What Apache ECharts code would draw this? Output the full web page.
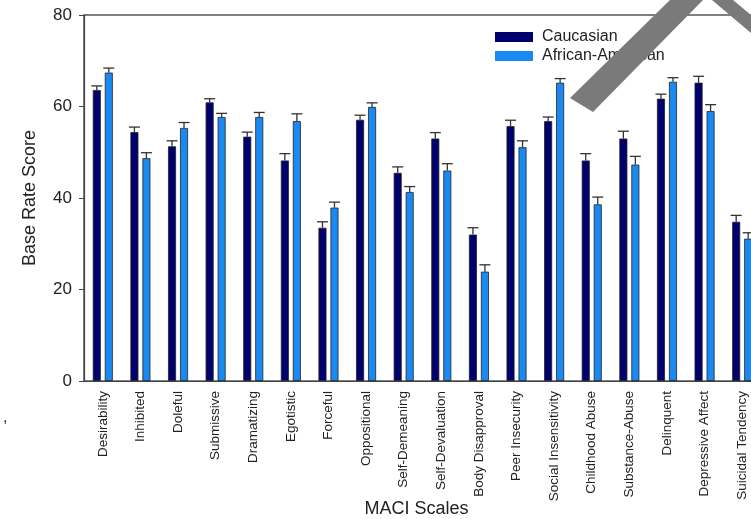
<!DOCTYPE html>
<html>
<head>
<meta charset="utf-8">
<script src="https://cdn.jsdelivr.net/npm/echarts@6/dist/echarts.min.js"></script>
<style>
  html, body { margin: 0; padding: 0; background: #fff; }
  #chart { width: 751px; height: 519px; }
</style>
</head>
<body>
<div id="chart"></div>
<script>
// MACI scale means by group, with standard errors (upper bars only)
const scales = ['Desirability', 'Inhibited', 'Doleful', 'Submissive', 'Dramatizing', 'Egotistic',
  'Forceful', 'Oppositional', 'Self-Demeaning', 'Self-Devaluation', 'Body Disapproval',
  'Peer Insecurity', 'Social Insensitivity', 'Childhood Abuse', 'Substance-Abuse',
  'Delinquent', 'Depressive Affect', 'Suicidal Tendency'];
const caucasian = [63.6, 54.4, 51.3, 60.9, 53.4, 48.2, 33.5, 57.1, 45.5, 53.0, 32.0, 55.7, 56.8, 48.2, 53.0, 61.7, 65.2, 34.8];
const caucasianErr = [0.9, 1.1, 1.2, 0.8, 1.0, 1.5, 1.3, 1.0, 1.3, 1.3, 1.5, 1.3, 0.9, 1.5, 1.6, 1.0, 1.4, 1.4];
const africanAmerican = [67.4, 48.7, 55.3, 57.7, 57.7, 56.8, 37.9, 59.9, 41.3, 46.0, 23.9, 51.1, 65.2, 38.6, 47.3, 65.4, 59.0, 31.1];
const africanAmericanErr = [1.0, 1.2, 1.2, 0.8, 1.0, 1.6, 1.2, 0.9, 1.2, 1.5, 1.5, 1.4, 0.9, 1.6, 1.8, 0.9, 1.4, 1.3];
const yTicks = [0, 20, 40, 60, 80];

const FONT = '"Liberation Sans", Arial, sans-serif';
const DARK = '#00006e';
const LIGHT = '#1a8af2';
const BAR_W = 8;
const BAR_GAP = 4;

// Upper error bar: stem from the bar top plus a cap, shifted onto its bar
function errorSeries(name, values, errs, offset) {
  return {
    type: 'custom',
    name: name + ' SE',
    z: 5,
    silent: true,
    encode: { x: 0, y: 1 },
    data: values.map((v, i) => [i, v, errs[i]]),
    renderItem: function (params, api) {
      const i = api.value(0);
      const v = api.value(1);
      const e = api.value(2);
      const base = api.coord([i, v]);
      const top = api.coord([i, v + e]);
      const x = base[0] + offset;
      const half = 5.5;
      const style = { stroke: '#333', lineWidth: 1.3 };
      return {
        type: 'group',
        children: [
          { type: 'line', shape: { x1: x, y1: base[1], x2: x, y2: top[1] }, style: style },
          { type: 'line', shape: { x1: x - half, y1: top[1], x2: x + half, y2: top[1] }, style: style }
        ]
      };
    }
  };
}

const chart = echarts.init(document.getElementById('chart'));
const shift = (BAR_W + BAR_GAP) / 2;

chart.setOption({
  animation: false,
  backgroundColor: '#fff',
  textStyle: { fontFamily: FONT },
  // plot area runs past the right edge of the canvas
  grid: {
    left: 84, top: 15, width: 677, bottom: 138,
    outerBoundsMode: 'none',
    containLabel: false,
    show: true, borderColor: '#555', borderWidth: 1.5, backgroundColor: 'transparent'
  },
  legend: {
    orient: 'vertical',
    left: 490, top: 24,
    itemWidth: 38, itemHeight: 10, itemGap: 3,
    icon: 'rect',
    data: ['Caucasian', 'African-American'],
    itemStyle: { borderWidth: 0 },
    textStyle: { fontFamily: FONT, fontSize: 16, color: '#222', padding: [0, 0, 0, 4] }
  },
  xAxis: {
    type: 'category',
    data: scales,
    name: 'MACI Scales',
    nameLocation: 'middle',
    nameGap: 119,
    nameMoveOverlap: false,
    nameTextStyle: { fontFamily: FONT, fontSize: 18, color: '#222', padding: [0, 12, 0, 0] },
    axisLine: { lineStyle: { color: '#444', width: 1.2 } },
    axisTick: { alignWithLabel: true, length: 3, lineStyle: { color: '#444' } },
    axisLabel: { rotate: 90, fontSize: 13.5, color: '#222', margin: 10, interval: 0, fontFamily: FONT }
  },
  yAxis: {
    type: 'value',
    min: 0, max: 80, interval: 20,
    name: 'Base Rate Score',
    nameLocation: 'middle',
    nameGap: 45,
    nameMoveOverlap: false,
    nameTextStyle: { fontFamily: FONT, fontSize: 18, color: '#222' },
    axisLine: { show: true, lineStyle: { color: '#444', width: 1.2 } },
    axisTick: { show: true, length: 5, lineStyle: { color: '#444' } },
    splitLine: { show: false },
    axisLabel: {
      fontSize: 17, color: '#222', margin: 12, fontFamily: FONT,
      formatter: v => (yTicks.includes(v) ? String(v) : '')
    }
  },
  series: [
    {
      name: 'Caucasian', type: 'bar', data: caucasian,
      barWidth: BAR_W, barGap: (BAR_GAP / BAR_W * 100) + '%',
      itemStyle: { color: DARK, borderColor: '#222', borderWidth: 0.8 }
    },
    {
      name: 'African-American', type: 'bar', data: africanAmerican,
      barWidth: BAR_W,
      itemStyle: { color: LIGHT, borderColor: '#222', borderWidth: 0.8 }
    },
    errorSeries('Caucasian', caucasian, caucasianErr, -shift),
    errorSeries('African-American', africanAmerican, africanAmericanErr, shift)
  ],
  graphic: [
    { type: 'text', left: 3, top: 410, style: { text: ',', fontSize: 16, fill: '#333', fontFamily: FONT } },
    // grey chevron band across the upper right corner
    {
      type: 'polygon', z: 100, silent: true,
      shape: { points: [[570, 98], [670, 0], [703, 0], [593, 112]] },
      style: { fill: '#7a7a7a' }
    },
    {
      type: 'polygon', z: 100, silent: true,
      shape: { points: [[712, 0], [733, 0], [751, 15], [751, 33]] },
      style: { fill: '#7a7a7a' }
    }
  ]
});
</script>
</body>
</html>
